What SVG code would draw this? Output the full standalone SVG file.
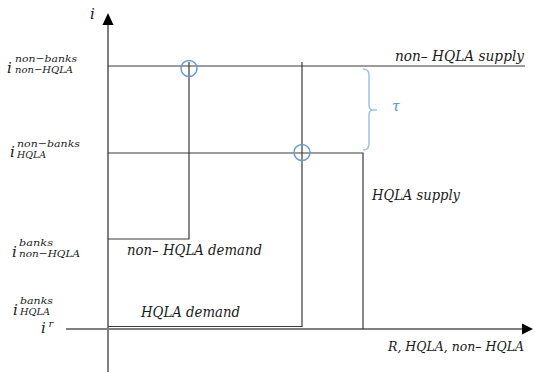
<svg xmlns="http://www.w3.org/2000/svg" width="535" height="373" viewBox="0 0 535 373">
<defs>
<style>
.ax{stroke:#7f7f7f;stroke-width:2;fill:none}
.ln{stroke:#3a3a3a;stroke-width:1.2;fill:none}
.mk{stroke:#6a9bd1;stroke-width:1.5;fill:none}
.br{stroke:#9dc3e6;stroke-width:1.5;fill:none}
.t{font-family:'DejaVu Serif','Liberation Serif',serif;font-style:italic;fill:#1a1a1a}
.lb{font-size:14px}
.rx{font-size:13px}
.ii{font-size:15px}
.sm{font-size:10px}
.tau{fill:#5b8fc9;font-size:14px}
</style>
</defs>
<rect width="535" height="373" fill="#fff"/>
<g id="axes">
<line class="ax" x1="108" y1="24" x2="108" y2="372"/>
<polygon points="108,13 102.5,25 113.5,25" fill="#000"/>
<line class="ax" x1="66" y1="329" x2="523" y2="329"/>
<polygon points="533,329 522,323.5 522,334.5" fill="#000"/>
<text class="t ii" x="90" y="19">i</text>
<text class="t rx" x="388" y="351" textLength="136" lengthAdjust="spacingAndGlyphs">R, HQLA, non– HQLA</text>
</g>
<g id="ylabels">
<text class="t ii" x="7" y="73">i</text>
<text class="t sm" x="15" y="62" textLength="62" lengthAdjust="spacingAndGlyphs">non−banks</text>
<text class="t sm" x="15" y="73" textLength="58" lengthAdjust="spacingAndGlyphs">non−HQLA</text>
<text class="t ii" x="10" y="157">i</text>
<text class="t sm" x="17" y="147" textLength="63" lengthAdjust="spacingAndGlyphs">non−banks</text>
<text class="t sm" x="17" y="158" textLength="29" lengthAdjust="spacingAndGlyphs">HQLA</text>
<text class="t ii" x="12" y="257">i</text>
<text class="t sm" x="19" y="246" textLength="34" lengthAdjust="spacingAndGlyphs">banks</text>
<text class="t sm" x="19" y="257" textLength="61" lengthAdjust="spacingAndGlyphs">non−HQLA</text>
<text class="t ii" x="13" y="315">i</text>
<text class="t sm" x="20" y="304" textLength="33" lengthAdjust="spacingAndGlyphs">banks</text>
<text class="t sm" x="20" y="315" textLength="30" lengthAdjust="spacingAndGlyphs">HQLA</text>
<text class="t ii" x="41" y="333">i</text>
<text class="t sm" x="48.5" y="327">r</text>
</g>
<g id="connectors">
<polyline id="nonhqla-supply" class="ln" points="108,66 525,66"/>
<polyline id="hqla-supply" class="ln" points="108,153 363,153 363,329"/>
<polyline id="nonhqla-demand" class="ln" points="189,62 189,239 108,239"/>
<polyline id="hqla-demand" class="ln" points="302,62 302,326.5 108,326.5"/>
</g>
<g id="markers">
<circle class="mk" cx="189" cy="68.5" r="8"/>
<circle class="mk" cx="302" cy="152.5" r="8"/>
</g>
<g id="tau">
<path class="br" d="M363,69 Q369,69 369,75 L369,105 Q369,110 373,110 L377,110 M373,110 Q369,110 369,115 L369,144 Q369,150 363,150"/>
<text class="t tau" x="392" y="111">τ</text>
</g>
<g id="curve-labels">
<text class="t lb" x="395" y="61" textLength="129" lengthAdjust="spacingAndGlyphs">non– HQLA supply</text>
<text class="t lb" x="372" y="200" textLength="88" lengthAdjust="spacingAndGlyphs">HQLA supply</text>
<text class="t lb" x="127" y="255" textLength="135" lengthAdjust="spacingAndGlyphs">non– HQLA demand</text>
<text class="t lb" x="141" y="317" textLength="99" lengthAdjust="spacingAndGlyphs">HQLA demand</text>
</g>
</svg>
